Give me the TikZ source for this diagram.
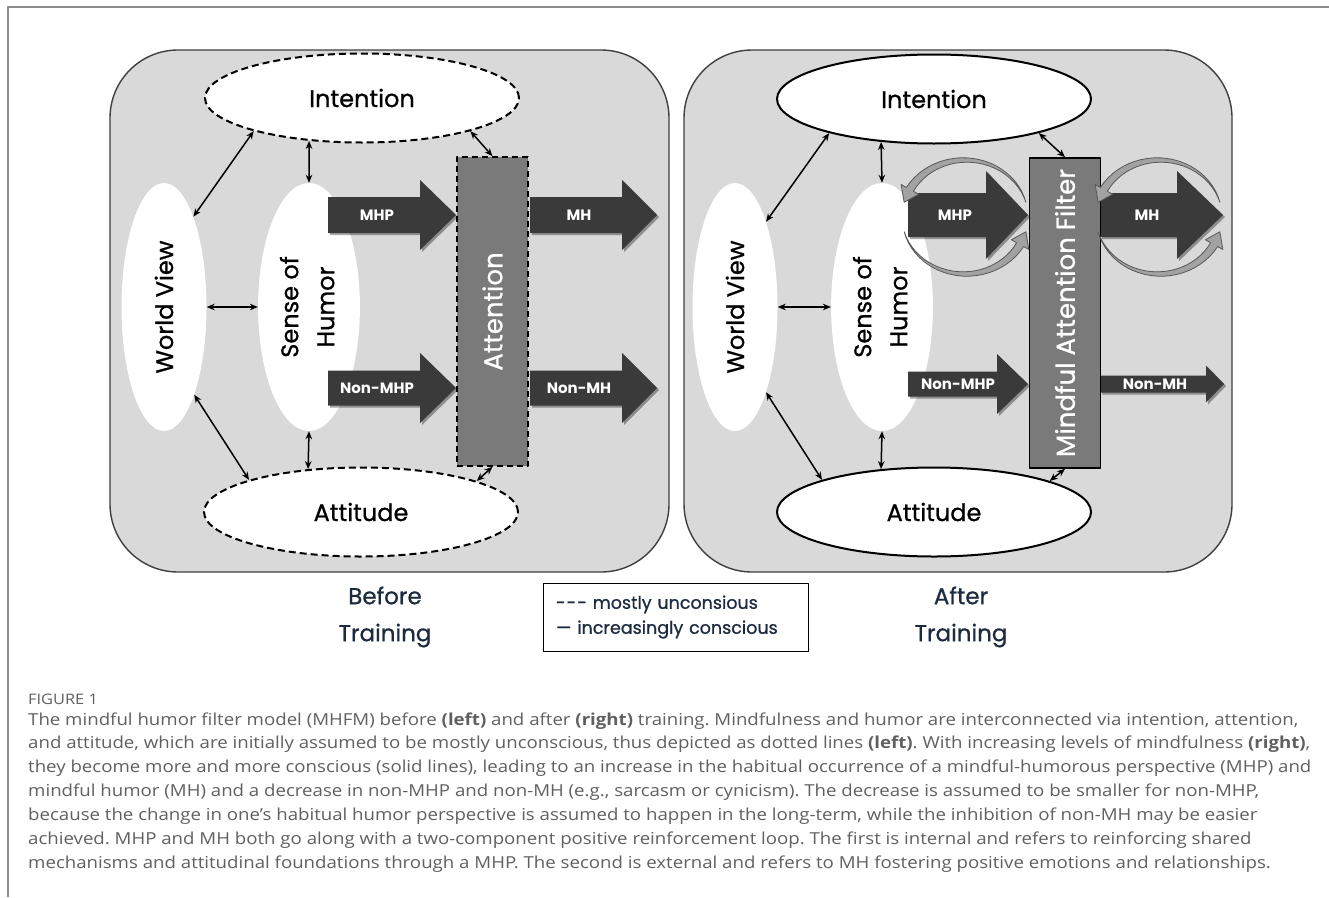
\documentclass[tikz,border=0pt]{standalone}
\usepackage{fontspec}
\setmainfont{Open Sans}[FakeStretch=1.13]
\newfontfamily\gothic{Poppins}
\newfontfamily\gothicmed{Poppins}[FakeBold=0.8]
\usetikzlibrary{shapes.geometric,arrows.meta,shadows}
\frenchspacing

\definecolor{panelfill}{HTML}{D9D9D9}
\definecolor{panelline}{HTML}{3F3F3F}
\definecolor{arrowgray}{HTML}{3A3A3A}
\definecolor{bargray}{HTML}{7A7A7A}
\definecolor{loopgray}{HTML}{A2A2A2}
\definecolor{loopline}{HTML}{585858}
\definecolor{navy}{HTML}{1C2B3F}
\definecolor{capgray}{HTML}{606060}
\definecolor{framegray}{HTML}{8C8C8C}

\tikzset{
  panel/.style={draw=panelline, fill=panelfill, line width=1.4pt, rounded corners=68pt},
  bubble/.style={ellipse, draw=black, fill=white, minimum width=314pt, minimum height=89pt, inner sep=0pt, line width=2pt, font=\gothicmed\fontsize{24}{28}\selectfont},
  unconscious/.style={bubble, dash pattern=on 7pt off 4pt},
  oval/.style={ellipse, fill=white, minimum width=85pt, minimum height=248pt, inner sep=0pt, font=\gothicmed\fontsize{24}{36}\selectfont},
  filterbar/.style={draw=black, fill=bargray, minimum width=71pt, line width=1.6pt, inner sep=0pt, text=white, font=\gothicmed\fontsize{26}{30}\selectfont},
  link/.style={<->, line width=1.5pt},
  blockarrow/.style={fill=arrowgray, drop shadow={shadow xshift=2pt, shadow yshift=-2pt, opacity=.35, fill=black}},
  arrowlabel/.style={text=white, font=\gothic\bfseries\fontsize{15}{18}\selectfont},
  looparrow/.style={fill=loopgray, draw=loopline, line width=.8pt},
  stagelabel/.style={text=navy, align=center, font=\gothicmed\fontsize{23}{37}\selectfont},
  captext/.style={anchor=base west, text=capgray, inner sep=0pt, font=\fontsize{16.5}{20}\selectfont}
}

\newcommand{\blockarrow}[6]{%
  \fill[blockarrow] (#1,#4-#5) -- (#2,#4-#5) -- (#2,#4-#6) -- (#3,#4) -- (#2,#4+#6) -- (#2,#4+#5) -- (#1,#4+#5) -- cycle;}

\newcommand{\looparc}[6]{%
  \pgfmathsetmacro{\ab}{#6-14}
  \filldraw[looparrow] plot[domain=#5:\ab, samples=25] ({#1+(#3+4*(\x-#5)/(\ab-#5))*cos(\x)}, {#2-(#4+4*(\x-#5)/(\ab-#5))*sin(\x)})
    -- ({#1+(#3+10)*cos(\ab)}, {#2-(#4+10)*sin(\ab)})
    -- ({#1+#3*cos(#6)}, {#2-#4*sin(#6)})
    -- ({#1+(#3-10)*cos(\ab)}, {#2-(#4-10)*sin(\ab)})
    -- plot[domain=\ab:#5, samples=25] ({#1+(#3-4*(\x-#5)/(\ab-#5))*cos(\x)}, {#2-(#4-4*(\x-#5)/(\ab-#5))*sin(\x)})
    -- cycle;}

\begin{document}
\begin{tikzpicture}[x=1pt, y=-1pt, >={Stealth[length=8pt,width=6.5pt]}, line join=round]
\useasboundingbox (0,0) rectangle (1329,897);
\fill[white] (0,0) rectangle (1329,897);
\draw[framegray, line width=1.5pt] (8,897) -- (8,7) -- (1329,7);

\draw[panel] (110,50) rectangle (669,572);
\draw[panel] (684,50) rectangle (1232,572);

\node[oval] (wvL) at (164,307) {\rotatebox{90}{World View}};
\node[oval] (shL) at (309,307) {\rotatebox{90}{\begin{tabular}{@{}c@{}}Sense of\\Humor\end{tabular}}};
\node[oval] (wvR) at (735,307) {\rotatebox{90}{World View}};
\node[oval] (shR) at (882,307) {\rotatebox{90}{\begin{tabular}{@{}c@{}}Sense of\\Humor\end{tabular}}};

\foreach \xa/\xb/\xt/\yc/\hb/\hh/\xl/\txt/\nm in {
    328/420/456/215/18/35/377/MHP/mhpL, 530/622/657/215/18/35/579/MH/mhL,
    328/420/456/388/17.5/35/377/Non-MHP/nmhpL, 530/622/657/388/17.5/35/579/Non-MH/nmhL,
    908/986/1028/215/22/44/955/MHP/mhpR, 1100/1177/1223/215/22/44/1147/MH/mhR,
    908/997/1028/384/12.5/30/958/Non-MHP/nmhpR, 1100/1206/1224/384/8.5/18.5/1155/Non-MH/nmhR}
  {\blockarrow{\xa}{\xb}{\xt}{\yc}{\hb}{\hh}
   \node[arrowlabel] (\nm) at (\xl,\yc) {\txt};}

\node[filterbar, dash pattern=on 6pt off 4pt, minimum height=309pt] (attL) at (492.5,311.5) {\rotatebox{90}{Attention}};
\node[filterbar, minimum height=310pt] (fltR) at (1065,313) {\rotatebox{90}{Mindful Attention Filter}};

\node[unconscious] (intL) at (362,98) {Intention};
\node[unconscious] (attdL) at (361,512) {Attitude};
\node[bubble] (intR) at (934,99) {Intention};
\node[bubble] (attdR) at (934,512) {Attitude};

\draw[link] (intL.197) -- (wvL.72);
\draw[link] (intL.219) -- (shL.north);
\draw[link] (intL.343) -- (attL.north);
\draw[link] (wvL.east) -- (shL.west);
\draw[link] (wvL.289) -- (attdL.164);
\draw[link] (shL.south) -- (attdL.141);
\draw[link] (attL.south) -- (attdL.15);

\draw[link] (intR.198) -- (wvR.70);
\draw[link] (intR.219) -- (shR.north);
\draw[link] (intR.342) -- (fltR.north);
\draw[link] (wvR.east) -- (shR.west);
\draw[link] (wvR.290) -- (attdR.164);
\draw[link] (shR.south) -- (attdR.141);
\draw[link] (fltR.south) -- (attdR.15);

\looparc{965}{217}{63}{57}{15}{165}
\looparc{965}{217}{63}{57}{195}{345}
\looparc{1159}{217}{63}{57}{15}{165}
\looparc{1159}{217}{63}{57}{195}{345}

\node[stagelabel] (before) at (385,617) {Before\\Training};
\node[stagelabel] (after) at (961,617) {After\\Training};
\node[draw=black, line width=1pt, minimum width=265pt, minimum height=68pt, text width=239pt, align=left, text=navy, font=\gothicmed\fontsize{17.5}{25}\selectfont] (legend) at (675.5,617) {-\kern1pt-\kern1pt- mostly unconsious\\— increasingly conscious};

\node[captext, font=\fontsize{14.5}{16}\selectfont] (figlabel) at (28,704) {FIGURE 1};
\foreach \capline [count=\i from 0] in {
    {The mindful humor filter model (MHFM) before \textbf{(left)} and after \textbf{(right)} training. Mindfulness and humor are interconnected via intention, attention,},
    {and attitude, which are initially assumed to be mostly unconscious, thus depicted as dotted lines \textbf{(left)}. With increasing levels of mindfulness \textbf{(right)},},
    {they become more and more conscious (solid lines), leading to an increase in the habitual occurrence of a mindful-humorous perspective (MHP) and},
    {mindful humor (MH) and a decrease in non-MHP and non-MH (e.g., sarcasm or cynicism). The decrease is assumed to be smaller for non-MHP,},
    {because the change in one’s habitual humor perspective is assumed to happen in the long-term, while the inhibition of non-MH may be easier},
    {achieved. MHP and MH both go along with a two-component positive reinforcement loop. The first is internal and refers to reinforcing shared},
    {mechanisms and attitudinal foundations through a MHP. The second is external and refers to MH fostering positive emotions and relationships.}}
  \node[captext] (cap\i) at (28,725+23.9*\i) {\capline};
\end{tikzpicture}
\end{document}
